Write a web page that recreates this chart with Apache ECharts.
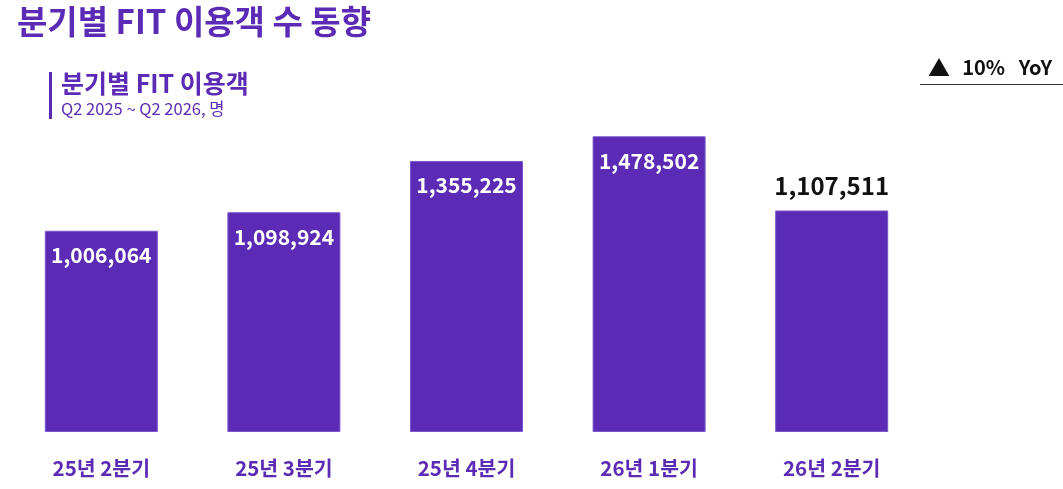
<!DOCTYPE html>
<html><head><meta charset="utf-8">
<script src="https://cdn.jsdelivr.net/npm/echarts@6/dist/echarts.min.js"></script>
<style>html,body{margin:0;padding:0;background:#fff}#c{width:1063px;height:489px}</style>
</head><body><div id="c"></div>
<script>
var categories = ['25년 2분기','25년 3분기','25년 4분기','26년 1분기','26년 2분기'];
var visitors = [1006064, 1098924, 1355225, 1478502, 1107511];
var yoyArrow = '▲';
var yoyText = '10%   YoY';

var PURPLE = '#5B2BB5';
var FONT = '"Noto Sans CJK KR", "Noto Sans", sans-serif';
var last = visitors.length - 1;

var chart = echarts.init(document.getElementById('c'));
chart.setOption({
  animation: false,
  textStyle: {fontFamily: FONT},
  title: [
    {text: '분기별 FIT 이용객 수 동향', left: 12, top: 0,
     textStyle: {fontFamily: FONT, fontSize: 33, fontWeight: 'bold', color: PURPLE}},
    {text: '분기별 FIT 이용객', left: 56, top: 66,
     textStyle: {fontFamily: FONT, fontSize: 25, fontWeight: 'bold', color: PURPLE}},
    {text: 'Q2 2025 ~ Q2 2026, 명', left: 56, top: 95,
     textStyle: {fontFamily: FONT, fontSize: 16.5, fontWeight: 'normal', color: PURPLE}},
    {text: yoyText, right: 6, top: 52,
     textStyle: {fontFamily: FONT, fontSize: 20, fontWeight: 'bold', color: '#111'}},
    {text: yoyArrow, left: 923, top: 52,
     textStyle: {fontFamily: FONT, fontSize: 22, fontWeight: 'bold', color: '#111'}}
  ],
  graphic: [
    {type: 'rect', left: 49, top: 72, shape: {width: 3, height: 47}, style: {fill: PURPLE}},
    {type: 'line', shape: {x1: 920, y1: 84.5, x2: 1063, y2: 84.5}, style: {stroke: '#333', lineWidth: 1.2}}
  ],
  grid: {left: 10, right: 140, top: 132, bottom: 57, containLabel: false},
  xAxis: {
    type: 'category', data: categories,
    axisLine: {show: false}, axisTick: {show: false},
    axisLabel: {margin: 26, fontSize: 20.5, fontWeight: 'bold', color: PURPLE, fontFamily: FONT}
  },
  yAxis: {type: 'value', min: 0, max: 1500000, show: false, splitLine: {show: false}},
  series: [{
    type: 'bar', barWidth: 113,
    data: visitors.map(function (v, i) {
      var item = {value: v};
      if (i === last) {
        item.label = {position: 'top', distance: 13, color: '#111', fontSize: 24};
      }
      return item;
    }),
    itemStyle: {color: PURPLE, borderColor: '#7b55cc', borderWidth: 1},
    label: {
      show: true, position: 'insideTop', distance: 14,
      color: '#fff', fontSize: 21, fontWeight: 'bold', fontFamily: FONT,
      formatter: function (p) { return p.value.toLocaleString('en-US'); }
    }
  }]
});
</script></body></html>
